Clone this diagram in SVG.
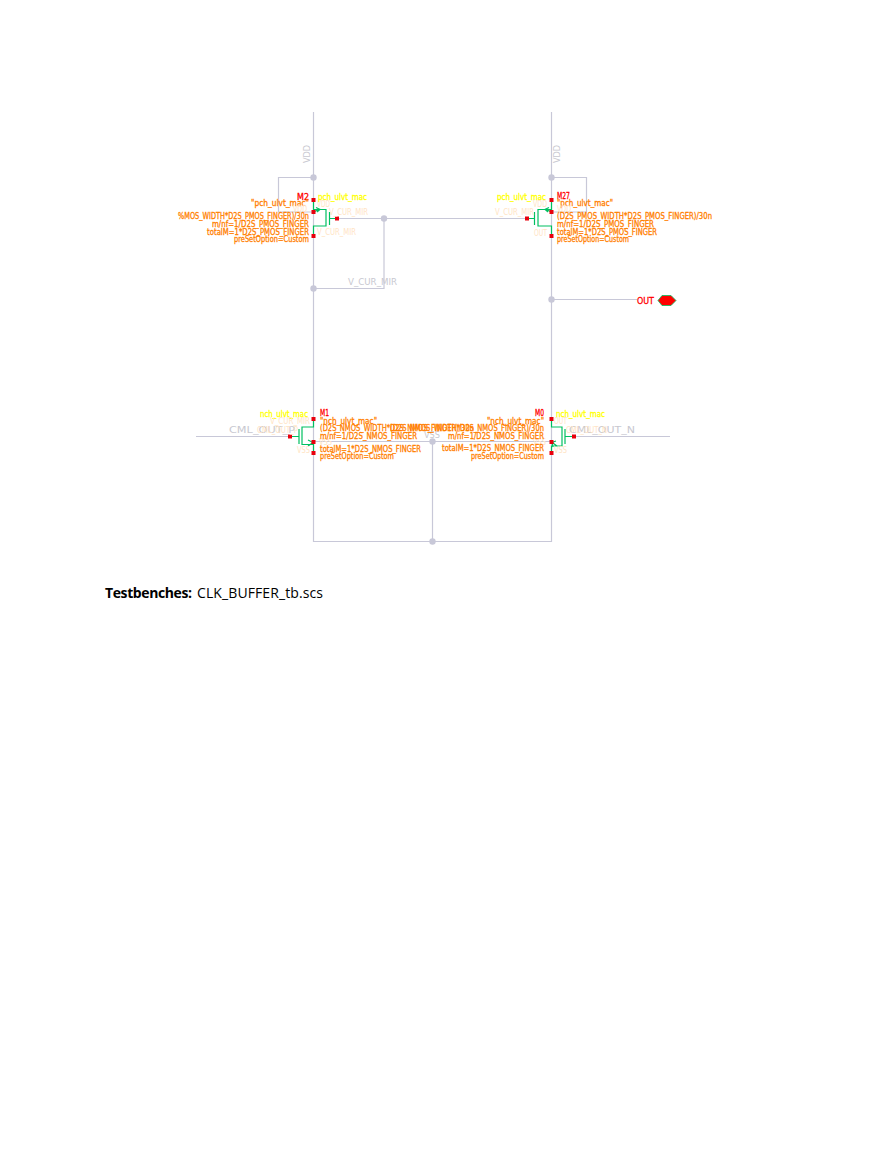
<svg xmlns="http://www.w3.org/2000/svg" width="893" height="1155" viewBox="0 0 893 1155">
<style>
text{font-family:"DejaVu Sans","Liberation Sans",sans-serif;font-size:8px}
.w{fill:none;stroke:#c8c8d8;stroke-width:1.2}
.d{fill:#c8c8d8}
.g{fill:none;stroke:#00c060;stroke-width:1.2}
.p{fill:#e8000c}
.o{fill:#ff8000;stroke:#ff8000;stroke-width:.3}
.y{fill:#ffff00;stroke:#ffff00;stroke-width:.3}
.r{fill:#ff0000;stroke:#ff0000;stroke-width:.3}
.c{fill:#ffe4c4}
.k{fill:#c8c8d0;font-size:9px}
.t{font-family:"Open Sans","Noto Sans",sans-serif;font-size:14px;fill:#000}
</style>
<rect width="893" height="1155" fill="#fff"/>
<g id="connectors">
<path class="w" d="M313.5 112V541.5H551.5V112M313.5 177.5H278.5V212H313.5M551.5 177.5H586.5V212H551.5M337 218.5H527M384 218.5V288.5H313.5M551.5 299.5H637M196 436.5H290M574 436.5H670M313.5 441.5H551.5M432.5 441.5V541.5"/>
<circle class="d" cx="313.5" cy="177.5" r="3.2"/><circle class="d" cx="551.5" cy="177.5" r="3.2"/>
<circle class="d" cx="384" cy="218.5" r="3.2"/><circle class="d" cx="313.5" cy="288.5" r="3.2"/>
<circle class="d" cx="551.5" cy="299.5" r="3.2"/><circle class="d" cx="432.5" cy="441.5" r="3.2"/><circle class="d" cx="432.5" cy="541.5" r="3.2"/>
<text class="k" transform="translate(309.5 163) rotate(-90)" textLength="18" lengthAdjust="spacingAndGlyphs">VDD</text>
<text class="k" transform="translate(560 163) rotate(-90)" textLength="18" lengthAdjust="spacingAndGlyphs">VDD</text>
<text class="k" x="348" y="285" textLength="49" lengthAdjust="spacingAndGlyphs">V_CUR_MIR</text>
<text class="k" x="229" y="433" textLength="66" lengthAdjust="spacingAndGlyphs">CML_OUT_P</text>
<text class="k" x="569" y="433" textLength="66" lengthAdjust="spacingAndGlyphs">CML_OUT_N</text>
<text class="k" x="424" y="438" textLength="16" lengthAdjust="spacingAndGlyphs">VSS</text>
</g>
<g id="M2">
<path class="g" d="M313.5 200V209.5H326V226H313.5V236M329.5 212V225M329.5 218.5H337M313.5 212L319 209.5M316 207.5L320 209.5L317 212"/>
<rect class="p" x="311.5" y="198" width="4" height="4"/><rect class="p" x="311.5" y="210" width="4" height="4"/><rect class="p" x="335" y="216.5" width="4" height="4"/><rect class="p" x="311.5" y="234" width="4" height="4"/>
<text class="r" x="297" y="200" textLength="12" lengthAdjust="spacingAndGlyphs">M2</text>
<text class="y" x="318" y="200" textLength="49" lengthAdjust="spacingAndGlyphs">pch_ulvt_mac</text>
<text class="o" x="251" y="206" textLength="58" lengthAdjust="spacingAndGlyphs">"pch_ulvt_mac"</text>
<text class="c" x="317" y="207" textLength="13" lengthAdjust="spacingAndGlyphs">VDD</text>
<text class="c" x="293" y="212" textLength="14" lengthAdjust="spacingAndGlyphs">VDD</text>
<text class="c" x="329" y="215" textLength="39" lengthAdjust="spacingAndGlyphs">V_CUR_MIR</text>
<text class="c" x="317" y="235" textLength="39" lengthAdjust="spacingAndGlyphs">V_CUR_MIR</text>
<text class="o" x="178" y="219" textLength="131" lengthAdjust="spacingAndGlyphs">%MOS_WIDTH*D2S_PMOS_FINGER)/30n</text>
<text class="o" x="212" y="227" textLength="97" lengthAdjust="spacingAndGlyphs">m/nf=1/D2S_PMOS_FINGER</text>
<text class="o" x="207" y="235" textLength="102" lengthAdjust="spacingAndGlyphs">totalM=1*D2S_PMOS_FINGER</text>
<text class="o" x="234" y="241.5" textLength="75" lengthAdjust="spacingAndGlyphs">preSetOption=Custom</text>
</g>
<g id="M27">
<path class="g" d="M551.5 200V209.5H538V226H551.5V236M534.5 212V225M527 218.5H534.5M551.5 212L546 209.5M549 207.5L545 209.5L548 212"/>
<rect class="p" x="549.5" y="198" width="4" height="4"/><rect class="p" x="549.5" y="210" width="4" height="4"/><rect class="p" x="525" y="216.5" width="4" height="4"/><rect class="p" x="549.5" y="234" width="4" height="4"/>
<text class="r" x="557" y="199" textLength="13" lengthAdjust="spacingAndGlyphs">M27</text>
<text class="y" x="497" y="200" textLength="49" lengthAdjust="spacingAndGlyphs">pch_ulvt_mac</text>
<text class="o" x="557" y="206" textLength="56" lengthAdjust="spacingAndGlyphs">"pch_ulvt_mac"</text>
<text class="c" x="533" y="207" textLength="14" lengthAdjust="spacingAndGlyphs">VDD</text>
<text class="c" x="557" y="212" textLength="14" lengthAdjust="spacingAndGlyphs">VDD</text>
<text class="c" x="495" y="215" textLength="39" lengthAdjust="spacingAndGlyphs">V_CUR_MIR</text>
<text class="c" x="534" y="236" textLength="13" lengthAdjust="spacingAndGlyphs">OUT</text>
<text class="o" x="557" y="219" textLength="155" lengthAdjust="spacingAndGlyphs">(D2S_PMOS_WIDTH*D2S_PMOS_FINGER)/30n</text>
<text class="o" x="557" y="227" textLength="97" lengthAdjust="spacingAndGlyphs">m/nf=1/D2S_PMOS_FINGER</text>
<text class="o" x="557" y="235" textLength="100" lengthAdjust="spacingAndGlyphs">totalM=1*D2S_PMOS_FINGER</text>
<text class="o" x="557" y="241.5" textLength="72" lengthAdjust="spacingAndGlyphs">preSetOption=Custom</text>
</g>
<g id="M1">
<path class="g" d="M313.5 419V427H302V444.5H313.5V453M299 429V444M290 436.5H299M308 440L313 442.5L308 446"/>
<rect class="p" x="311.5" y="417" width="4" height="4"/><rect class="p" x="288" y="434.5" width="4" height="4"/><rect class="p" x="311.5" y="440" width="4" height="4"/><rect class="p" x="311.5" y="451" width="4" height="4"/>
<text class="r" x="320" y="416" textLength="9" lengthAdjust="spacingAndGlyphs">M1</text>
<text class="y" x="260" y="417" textLength="48" lengthAdjust="spacingAndGlyphs">nch_ulvt_mac</text>
<text class="c" x="270" y="424" textLength="40" lengthAdjust="spacingAndGlyphs">V_CUR_MIR</text>
<text class="c" x="257" y="433" textLength="41" lengthAdjust="spacingAndGlyphs">CML_OUT_P</text>
<text class="c" x="319" y="445" textLength="13" lengthAdjust="spacingAndGlyphs">VSS</text>
<text class="c" x="297" y="453" textLength="13" lengthAdjust="spacingAndGlyphs">VSS</text>
<text class="o" x="320" y="424" textLength="57" lengthAdjust="spacingAndGlyphs">"nch_ulvt_mac"</text>
<text class="o" x="320" y="431" textLength="154" lengthAdjust="spacingAndGlyphs">(D2S_NMOS_WIDTH*D2S_NMOS_FINGER)/30n</text>
<text class="o" x="320" y="439" textLength="97" lengthAdjust="spacingAndGlyphs">m/nf=1/D2S_NMOS_FINGER</text>
<text class="o" x="320" y="452" textLength="101" lengthAdjust="spacingAndGlyphs">totalM=1*D2S_NMOS_FINGER</text>
<text class="o" x="320" y="459" textLength="74" lengthAdjust="spacingAndGlyphs">preSetOption=Custom</text>
</g>
<g id="M0">
<path class="g" d="M551.5 419V427H562V446H551.5V453M565 429V444M565 436.5H574M551.5 442L557 446M556 441L552 442.5L553 447"/>
<rect class="p" x="549.5" y="417" width="4" height="4"/><rect class="p" x="572" y="434.5" width="4" height="4"/><rect class="p" x="549.5" y="440" width="4" height="4"/><rect class="p" x="549.5" y="451" width="4" height="4"/>
<text class="r" x="535" y="416" textLength="9" lengthAdjust="spacingAndGlyphs">M0</text>
<text class="y" x="556" y="417" textLength="49" lengthAdjust="spacingAndGlyphs">nch_ulvt_mac</text>
<text class="c" x="554" y="424" textLength="13" lengthAdjust="spacingAndGlyphs">OUT</text>
<text class="c" x="566" y="433" textLength="41" lengthAdjust="spacingAndGlyphs">CML_OUT_N</text>
<text class="c" x="533" y="445" textLength="13" lengthAdjust="spacingAndGlyphs">VSS</text>
<text class="c" x="554" y="453" textLength="13" lengthAdjust="spacingAndGlyphs">VSS</text>
<text class="o" x="487" y="424" textLength="57" lengthAdjust="spacingAndGlyphs">"nch_ulvt_mac"</text>
<text class="o" x="390" y="431" textLength="154" lengthAdjust="spacingAndGlyphs">(D2S_NMOS_WIDTH*D2S_NMOS_FINGER)/30n</text>
<text class="o" x="448" y="439" textLength="96" lengthAdjust="spacingAndGlyphs">m/nf=1/D2S_NMOS_FINGER</text>
<text class="o" x="442" y="451" textLength="102" lengthAdjust="spacingAndGlyphs">totalM=1*D2S_NMOS_FINGER</text>
<text class="o" x="471" y="459" textLength="73" lengthAdjust="spacingAndGlyphs">preSetOption=Custom</text>
</g>
<g id="OUT">
<text class="r" x="637" y="303.5" style="font-size:9px" textLength="17" lengthAdjust="spacingAndGlyphs">OUT</text>
<polygon points="658,300.5 662,295.5 671,295.5 676,300.5 671,305.5 662,305.5" fill="#ff0000" stroke="#00c060" stroke-width=".8"/>
</g>
<g id="caption">
<text class="t" x="105" y="598" font-weight="bold" textLength="87">Testbenches:</text>
<text class="t" x="197" y="598" textLength="126">CLK_BUFFER_tb.scs</text>
</g>
</svg>
